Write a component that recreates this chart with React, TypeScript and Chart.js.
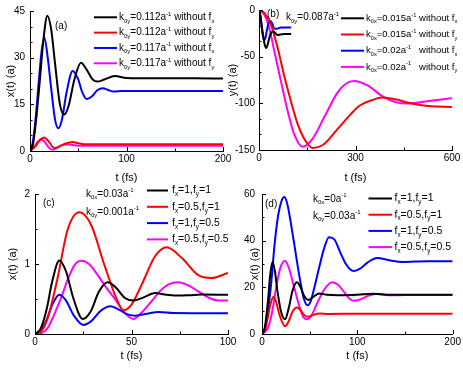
import { useEffect, useRef } from "react";
import { Chart, registerables } from "chart.js";
Chart.register(...registerables);

const FONT = '"Liberation Sans", Arial, Helvetica, sans-serif';
const COLORS = ["#000000", "#ff0000", "#0000ff", "#ff00ff"];

// ---------- Panel (a): x(t) vs t, k0y ----------
const aBlackT = [0, 3, 6, 10, 14, 18, 22, 26, 31, 35.5, 40, 46, 52.8, 59, 65, 70, 77, 88, 100, 130, 170, 200];
const aBlackV = [0, 2, 9, 22, 36, 43.5, 39, 28, 15, 11.7, 14.5, 23, 28.4, 26, 23, 22.3, 23, 24.1, 23.5, 23.4, 23.4, 23.3];
const aRedT = [0, 5, 10, 14.8, 19, 25, 31, 37, 44, 50, 56, 70, 100, 200];
const aRedV = [0, 1.3, 3.4, 4.3, 3.2, 1.0, 1.5, 2.4, 2.9, 2.5, 2.2, 2.2, 2.2, 2.2];
const aBlueT = [0, 3, 6, 9, 12, 14.8, 18, 22, 26, 29.4, 33, 38, 44.2, 50, 54, 58.7, 64, 70, 75.3, 81, 87, 95, 120, 200];
const aBlueV = [0, 3, 11, 22, 32, 36.5, 31, 20, 10, 7.3, 10, 19, 25.7, 23, 19, 16.7, 17.5, 19.6, 20.2, 19.6, 19.1, 19.3, 19.3, 19.3];
const aMagT = [0, 4, 8, 11.4, 15, 19, 23.5, 28, 33, 39, 45, 52, 70, 200];
const aMagV = [0, 1.2, 2.9, 3.8, 3.0, 1.3, 0.4, 1.0, 1.9, 2.2, 1.9, 1.7, 1.7, 1.7];
const aLegend = [
  "k_{0y}=0.112a^{-1} without f_{x}",
  "k_{0y}=0.112a^{-1} without f_{y}",
  "k_{0y}=0.117a^{-1} without f_{x}",
  "k_{0y}=0.117a^{-1} without f_{y}",
];

// ---------- Panel (b): y(t) vs t, k0x ----------
const bBlackT = [0, 4, 8, 12, 16.5, 22, 27, 32, 37, 44, 51, 58, 66, 80, 100];
const bBlackV = [0, -5, -15.7, -26, -35, -40.8, -37, -30, -25, -22.8, -25, -26.8, -26.2, -25.8, -25.8];
const bRedT = [0, 16.5, 37, 58, 78.5, 99, 120, 140.6, 166, 202.7, 244, 285.5, 311, 350.7, 381.7, 423, 474.8, 526.5, 600];
const bRedV = [0, -3.2, -15.7, -40.5, -70.8, -97.4, -122, -138, -147.8, -143.6, -127.6, -111.6, -102.8, -96.7, -93.8, -95.6, -100.2, -102.8, -103.8];
const bBlueT = [0, 4, 8, 12, 16, 20, 24, 29, 35, 41, 47.5, 55, 68, 100];
const bBlueV = [0, -6, -17, -27, -32.5, -30, -23, -15, -11.6, -14.5, -19.8, -20, -18.7, -18.7];
const bMagT = [0, 16.5, 32, 47.5, 68, 89, 109.5, 135, 166, 202.7, 244, 270, 295, 340, 381.7, 423, 470, 526.5, 600];
const bMagV = [0, -5, -19.2, -44, -76, -108, -133, -146.5, -138.3, -115, -88.5, -79, -76.2, -81.4, -92, -98.5, -100.2, -97.5, -94.6];
const bLegend = [
  "k_{0x}=0.015a^{-1} without f_{x}",
  "k_{0x}=0.015a^{-1} without f_{y}",
  "k_{0x}=0.02a^{-1}   without f_{x}",
  "k_{0x}=0.02a^{-1}   without f_{y}",
];

// ---------- Panel (c): x(t) vs t, fx/fy ----------
const cBlackT = [0, 3, 6, 9, 12.6, 16, 20, 24.7, 29, 33, 37.7, 42, 46.6, 51, 56, 62.2, 68, 72.5, 80, 86.4, 100];
const cBlackV = [0, 0.08, 0.35, 0.76, 1.05, 0.9, 0.5, 0.215, 0.33, 0.6, 0.74, 0.66, 0.515, 0.477, 0.52, 0.587, 0.56, 0.549, 0.555, 0.563, 0.56];
const cRedT = [0, 3, 6.6, 11.7, 16.9, 23, 29, 35.9, 42.8, 45.8, 50, 55.3, 62.2, 68.2, 76, 84.6, 91.5, 100];
const cRedV = [0, 0.03, 0.23, 0.8, 1.49, 1.74, 1.565, 0.99, 0.468, 0.34, 0.42, 0.706, 1.11, 1.24, 1.088, 0.84, 0.8, 0.873];
const cBlueT = [0, 3, 6, 9, 12.6, 16, 20, 25, 29, 34, 39, 44, 48, 52, 58, 64, 72, 100];
const cBlueV = [0, 0.04, 0.2, 0.42, 0.56, 0.48, 0.27, 0.13, 0.18, 0.33, 0.395, 0.34, 0.28, 0.262, 0.29, 0.315, 0.3, 0.296];
const cMagT = [0, 3, 6.6, 10, 13.5, 17, 20.4, 24, 28, 32.5, 37, 41, 46.6, 51, 55, 60.4, 65, 69, 74.2, 79, 84.6, 90, 95, 100];
const cMagV = [0, 0.01, 0.086, 0.28, 0.515, 0.78, 0.98, 1.045, 1.0, 0.84, 0.66, 0.515, 0.3, 0.215, 0.3, 0.468, 0.62, 0.706, 0.74, 0.7, 0.61, 0.52, 0.477, 0.48];
const fLegend = ["f_{x}=1,f_{y}=1", "f_{x}=0.5,f_{y}=1", "f_{x}=1,f_{y}=0.5", "f_{x}=0.5,f_{y}=0.5"];

// ---------- Panel (d): x(t) vs t, fx/fy ----------
const dBlackT = [0, 3, 6.2, 8.5, 11, 13.5, 16, 20, 24.2, 28, 32, 36.5, 40, 44, 49, 54, 60, 68, 80, 100, 117, 130, 200];
const dBlackV = [0, 3, 14, 25, 31, 27, 19, 9.5, 6.3, 11, 18.5, 22.2, 20.5, 16.5, 14.6, 16, 17.4, 16.8, 16.6, 16.8, 17.2, 16.8, 16.8];
const dRedT = [0, 3, 6, 9, 12, 15, 18.5, 24.2, 28, 32, 36.5, 40, 44, 48.5, 54, 60, 70, 100, 200];
const dRedV = [0, 1.5, 7, 13, 16, 13.5, 8, 3.3, 5.5, 9.5, 11.4, 10.5, 8.2, 7.4, 8.2, 8.8, 8.6, 8.7, 8.7];
const dBlueT = [0, 3, 6, 9.7, 13.1, 17, 20.5, 23.5, 27, 30.5, 33.9, 37.5, 40.8, 44, 47.7, 51, 55, 59.9, 65, 70.3, 76, 82.3, 88, 92.7, 96.5, 103, 110.3, 120.7, 134.6, 148.4, 172.6, 200];
const dBlueV = [0, 2, 9, 22, 38, 51, 57, 58.7, 55, 47, 38.4, 29, 21.2, 15, 12.3, 14, 20, 28.4, 36.5, 41.5, 40.5, 34.8, 30, 27.6, 27, 28, 30.5, 32.6, 31.5, 30.9, 31.2, 31.2];
const dMagT = [0, 3, 6.2, 10, 14.8, 19, 24, 28, 33.9, 39, 43, 47.7, 52, 56, 60, 66, 73.7, 80, 87, 92, 96.5, 103, 110.3, 120.7, 134.6, 150, 200];
const dMagV = [0, 0.8, 2.6, 8, 19.8, 28, 31.4, 28.5, 19.8, 12, 7.5, 6.3, 8, 11.5, 15, 19.5, 22.2, 21, 17.5, 15, 14.2, 14.8, 16.2, 17.3, 16.6, 16.7, 16.7];

type Note = { text: string; x: number; y: number; size: number };
type PanelSpec = {
  series: { t: number[]; v: number[] }[];
  area: { l: number; r: number; t: number; b: number };
  xr: [number, number, number, number]; // min,max,major,minor
  yr: [number, number, number, number];
  yTitle: string;
  yBoxLeft: number;
  yTitleX: number;
  xTitleY: number;
  yPad: number;
  legend: string[];
  leg: { x1: number; x2: number; tx: number; y0: number; dy: number; size: number };
  notes: Note[];
};

const panels: PanelSpec[] = [
  {
    series: [
      { t: aBlackT, v: aBlackV },
      { t: aRedT, v: aRedV },
      { t: aBlueT, v: aBlueV },
      { t: aMagT, v: aMagV },
    ],
    area: { l: 30, r: 223, t: 9, b: 151 },
    xr: [0, 200, 100, 50],
    yr: [0, 45, 15, 5],
    yTitle: "x(t) (a)",
    yBoxLeft: 3,
    yTitleX: 11,
    xTitleY: 178,
    yPad: 5,
    legend: aLegend,
    leg: { x1: 94, x2: 117, tx: 119, y0: 17.3, dy: 15.33, size: 10 },
    notes: [{ text: "(a)", x: 55, y: 26.5, size: 10 }],
  },
  {
    series: [
      { t: bBlackT, v: bBlackV },
      { t: bRedT, v: bRedV },
      { t: bBlueT, v: bBlueV },
      { t: bMagT, v: bMagV },
    ],
    area: { l: 259, r: 452, t: 9, b: 150 },
    xr: [0, 600, 300, 150],
    yr: [-150, 0, 50, 50 / 3],
    yTitle: "y(t) (a)",
    yBoxLeft: 224,
    yTitleX: 233,
    xTitleY: 178,
    yPad: 4,
    legend: bLegend,
    leg: { x1: 341, x2: 364, tx: 366, y0: 18.3, dy: 16.2, size: 9.5 },
    notes: [
      { text: "(b)", x: 267, y: 14.5, size: 10 },
      { text: "k_{0y}=0.087a^{-1}", x: 286, y: 17.5, size: 10 },
    ],
  },
  {
    series: [
      { t: cBlackT, v: cBlackV },
      { t: cRedT, v: cRedV },
      { t: cBlueT, v: cBlueV },
      { t: cMagT, v: cMagV },
    ],
    area: { l: 35, r: 228, t: 194, b: 334 },
    xr: [0, 100, 50, 25],
    yr: [0, 2, 1, 0.5],
    yTitle: "x(t) (a)",
    yBoxLeft: 4,
    yTitleX: 12.5,
    xTitleY: 356,
    yPad: 5,
    legend: fLegend,
    leg: { x1: 147, x2: 168, tx: 172, y0: 190.5, dy: 16.3, size: 10.5 },
    notes: [
      { text: "(c)", x: 43, y: 203, size: 10 },
      { text: "k_{0x}=0.03a^{-1}", x: 86, y: 194, size: 10 },
      { text: "k_{0y}=0.001a^{-1}", x: 86, y: 212, size: 10 },
    ],
  },
  {
    series: [
      { t: dBlackT, v: dBlackV },
      { t: dRedT, v: dRedV },
      { t: dBlueT, v: dBlueV },
      { t: dMagT, v: dMagV },
    ],
    area: { l: 262, r: 455, t: 194, b: 334 },
    xr: [0, 200, 100, 50],
    yr: [0, 60, 20, 10],
    yTitle: "x(t) (a)",
    yBoxLeft: 238,
    yTitleX: 255,
    xTitleY: 356,
    yPad: 7,
    legend: fLegend,
    leg: { x1: 368.5, x2: 392, tx: 394.5, y0: 198.5, dy: 16.2, size: 10.5 },
    notes: [
      { text: "(d)", x: 265, y: 204, size: 10 },
      { text: "k_{0x}=0a^{-1}", x: 313, y: 199, size: 10 },
      { text: "k_{0y}=0.03a^{-1}", x: 313, y: 216, size: 10 },
    ],
  },
];

function drawRich(ctx: CanvasRenderingContext2D, text: string, x: number, y: number, size: number) {
  const re = /([_^])\{([^}]*)\}/g;
  const segs: { s: string; k: string }[] = [];
  let last = 0;
  let m: RegExpExecArray | null;
  while ((m = re.exec(text))) {
    if (m.index > last) segs.push({ s: text.slice(last, m.index), k: "n" });
    segs.push({ s: m[2], k: m[1] });
    last = re.lastIndex;
  }
  if (last < text.length) segs.push({ s: text.slice(last), k: "n" });
  let cx = x;
  ctx.textAlign = "left";
  ctx.textBaseline = "middle";
  ctx.fillStyle = "#000";
  for (const seg of segs) {
    const sz = seg.k === "n" ? size : size * 0.6;
    const dy = seg.k === "_" ? size * 0.38 : seg.k === "^" ? -size * 0.32 : 0;
    ctx.font = `${sz}px ${FONT}`;
    ctx.fillText(seg.s, cx, y + dy);
    cx += ctx.measureText(seg.s).width;
  }
}

function makeConfig(p: PanelSpec): any {
  const W = 463, H = 377;
  const titleLH = 11 * 1.2;
  const yBoxW = p.area.l - p.yBoxLeft;
  const yTitlePad = Math.max(0, p.yTitleX - titleLH / 2 - p.yBoxLeft);
  const xBoxH = p.xTitleY + titleLH / 2 - p.area.b;
  const overlay = {
    id: "overlay",
    afterDraw(chart: any) {
      const ctx: CanvasRenderingContext2D = chart.ctx;
      const xs = chart.scales.x, ys = chart.scales.y;
      const { left, bottom } = chart.chartArea;
      ctx.save();
      ctx.strokeStyle = "#000";
      ctx.lineWidth = 1;
      const [x0, x1, xM, xm] = p.xr;
      for (let i = 0; x0 + i * xm <= x1 + 1e-9; i++) {
        const v = x0 + i * xm;
        const major = Math.abs(v / xM - Math.round(v / xM)) < 1e-6;
        const px = Math.round(xs.getPixelForValue(v)) + 0.5;
        ctx.beginPath();
        ctx.moveTo(px, bottom);
        ctx.lineTo(px, bottom - (major ? 4 : 2.5));
        ctx.stroke();
      }
      const [y0, y1, yM, ym] = p.yr;
      for (let i = 0; y0 + i * ym <= y1 + 1e-9; i++) {
        const v = y0 + i * ym;
        const major = Math.abs(v / yM - Math.round(v / yM)) < 1e-6;
        const py = Math.round(ys.getPixelForValue(v)) + 0.5;
        ctx.beginPath();
        ctx.moveTo(left, py);
        ctx.lineTo(left + (major ? 4 : 2.5), py);
        ctx.stroke();
      }
      // legend
      p.legend.forEach((txt, i) => {
        const y = p.leg.y0 + i * p.leg.dy;
        ctx.strokeStyle = COLORS[i];
        ctx.lineWidth = 2;
        ctx.beginPath();
        ctx.moveTo(p.leg.x1, y);
        ctx.lineTo(p.leg.x2, y);
        ctx.stroke();
        drawRich(ctx, txt, p.leg.tx, y, p.leg.size);
      });
      p.notes.forEach((n) => drawRich(ctx, n.text, n.x, n.y, n.size));
      ctx.restore();
    },
  };
  const tickFont = { family: FONT, size: 10 };
  const titleFont = { family: FONT, size: 11 };
  return {
    type: "line",
    data: {
      datasets: p.series.map((s, i) => ({
        data: s.t.map((t, j) => ({ x: t, y: s.v[j] })),
        borderColor: COLORS[i],
        borderWidth: 2,
        pointRadius: 0,
        fill: false,
        cubicInterpolationMode: "monotone",
      })),
    },
    options: {
      responsive: false,
      animation: false,
      events: [],
      layout: {
        padding: {
          left: p.yBoxLeft,
          right: W - p.area.r,
          top: p.area.t,
          bottom: H - (p.area.b + xBoxH),
        },
      },
      plugins: { legend: { display: false }, tooltip: { enabled: false } },
      scales: {
        x: {
          type: "linear",
          position: "bottom",
          min: p.xr[0],
          max: p.xr[1],
          ticks: { stepSize: p.xr[2], color: "#000", font: tickFont, padding: 2, maxRotation: 0, autoSkip: false },
          grid: { display: false, drawTicks: false },
          border: { display: true, color: "#000", width: 1 },
          title: { display: true, text: "t (fs)", color: "#000", font: titleFont, padding: 0 },
          afterFit: (s: any) => {
            s.height = xBoxH;
          },
        },
        y: {
          type: "linear",
          position: "left",
          min: p.yr[0],
          max: p.yr[1],
          ticks: { stepSize: p.yr[2], color: "#000", font: tickFont, padding: p.yPad, autoSkip: false },
          grid: { display: false, drawTicks: false },
          border: { display: true, color: "#000", width: 1 },
          title: { display: true, text: p.yTitle, color: "#000", font: titleFont, padding: { top: yTitlePad, bottom: 0 } },
          afterFit: (s: any) => {
            s.width = yBoxW;
          },
        },
      },
    },
    plugins: [overlay],
  };
}

function Panel({ spec }: { spec: PanelSpec }) {
  const ref = useRef<HTMLCanvasElement>(null);
  useEffect(() => {
    const chart = new Chart(ref.current as HTMLCanvasElement, makeConfig(spec));
    return () => chart.destroy();
  }, [spec]);
  return (
    <canvas
      ref={ref}
      width={463}
      height={377}
      style={{ position: "absolute", left: 0, top: 0, width: 463, height: 377 }}
    />
  );
}

export default function App() {
  return (
    <div style={{ position: "absolute", left: 0, top: 0, width: 463, height: 377, background: "#fff", overflow: "hidden" }}>
      {panels.map((p, i) => (
        <Panel key={i} spec={p} />
      ))}
    </div>
  );
}
